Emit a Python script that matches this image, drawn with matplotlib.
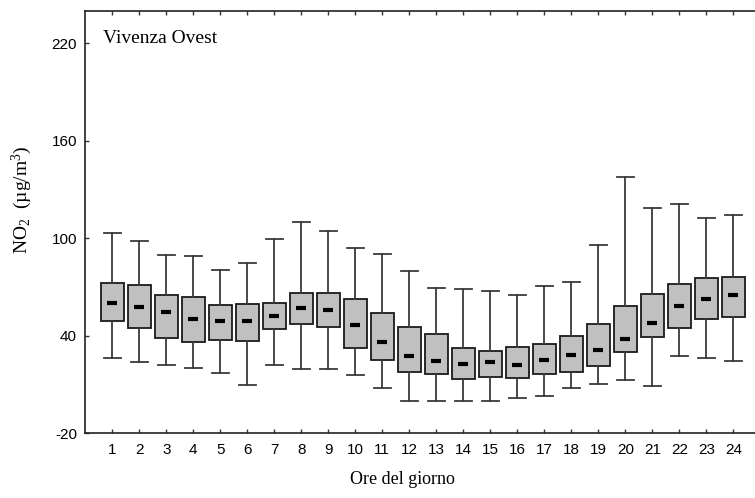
import matplotlib
matplotlib.use("Agg")
import matplotlib.pyplot as plt

plt.rcParams["mathtext.fontset"] = "custom"
plt.rcParams["mathtext.rm"] = "Liberation Serif"
plt.rcParams["mathtext.it"] = "Liberation Serif:italic"
plt.rcParams["mathtext.bf"] = "Liberation Serif:bold"

# Hourly NO2 distribution (µg/m3) at Vivenza Ovest
hours = list(range(1, 25))
whisker_low = [26.5, 23.9, 22.2, 20.0, 17.3, 9.7, 22.2, 19.6, 19.8, 16.1, 8.1, 0.0,
               0.0, 0.0, 0.0, 1.5, 3.0, 7.7, 10.1, 13.0, 9.3, 27.8, 26.5, 24.3]
q1 = [49.1, 44.8, 38.5, 36.4, 37.4, 37.0, 44.0, 47.3, 45.2, 32.7, 25.3, 17.7,
      16.7, 13.4, 14.6, 14.2, 16.7, 17.7, 21.6, 30.2, 39.1, 44.8, 50.5, 51.8]
median = [60.0, 57.5, 54.6, 50.2, 49.1, 49.1, 52.0, 57.3, 55.9, 46.6, 36.0, 27.4,
          24.3, 22.5, 24.1, 22.0, 25.3, 28.4, 31.5, 37.8, 47.9, 58.5, 62.8, 64.9]
q3 = [72.3, 71.5, 65.3, 63.7, 59.1, 59.4, 60.0, 66.2, 66.2, 62.5, 54.2, 45.2,
      41.3, 32.3, 30.5, 33.3, 34.8, 39.9, 47.1, 58.5, 65.9, 72.1, 75.6, 76.4]
whisker_high = [103.5, 98.5, 89.7, 89.1, 80.5, 84.6, 99.4, 110.2, 104.3, 94.2, 90.2, 79.9,
                69.4, 69.0, 67.8, 65.3, 70.5, 73.1, 96.1, 137.7, 118.5, 121.1, 112.5, 114.3]
y_ticks = [-20, 40, 100, 160, 220]

serif = ["Liberation Serif", "DejaVu Serif"]
sans = ["Liberation Sans", "DejaVu Sans"]

W, H = 755, 498
fig = plt.figure(figsize=(W / 100, H / 100), dpi=100)
left, right, top, bottom = 85.3, 760.3, 10.7, 433.3
ax = fig.add_axes([left / W, 1 - bottom / H, (right - left) / W, (bottom - top) / H])


def fig_xy(px, py):
    """Pixel position (from the top-left corner) to figure fraction."""
    return px / W, 1 - py / H


stats = []
for h, lo, a, m, b, hi in zip(hours, whisker_low, q1, median, q3, whisker_high):
    stats.append(dict(whislo=lo, q1=a, med=m, q3=b, whishi=hi, fliers=[], label=str(h)))

ax.bxp(stats, positions=hours, widths=0.83, capwidths=0.62, patch_artist=True,
       showfliers=False,
       boxprops=dict(facecolor="#c0c0c0", edgecolor="#1a1a1a", linewidth=1.3),
       whiskerprops=dict(color="#3a3a3a", linewidth=1.3),
       capprops=dict(color="#3a3a3a", linewidth=1.3),
       medianprops=dict(linewidth=0))

# short thick median marks
ax.plot(hours, median, ls="none", marker="_", ms=6.5, mew=3, color="black", zorder=5)

ax.set_xlim(0, 25)
ax.set_ylim(-20, 240)
ax.set_xticks(hours)
ax.set_xticklabels([str(h) for h in hours], fontfamily=sans, fontsize=11)
ax.set_yticks(y_ticks)
ax.set_yticklabels([str(v) for v in y_ticks], fontfamily=sans, fontsize=11)
ax.tick_params(axis="both", direction="in", length=3, width=1, color="#333333",
               top=True, right=False)
ax.tick_params(axis="y", pad=6)
ax.tick_params(axis="x", pad=7)
for s in ("left", "bottom", "top"):
    ax.spines[s].set_linewidth(1.2)
    ax.spines[s].set_color("#222222")
ax.spines["right"].set_visible(False)

fig.text(*fig_xy(103.3, 42.7), "Vivenza Ovest", fontfamily=serif, fontsize=14,
         ha="left", va="baseline")
fig.text(*fig_xy(402.5, 479), "Ore del giorno", fontfamily=serif, fontsize=13,
         ha="center", va="center")
fig.text(*fig_xy(22, 200), "NO$_2$  (µg/m$^3$)", fontfamily=serif, fontsize=14,
         rotation=90, ha="center", va="center")

fig.savefig("out.png", dpi=100)
